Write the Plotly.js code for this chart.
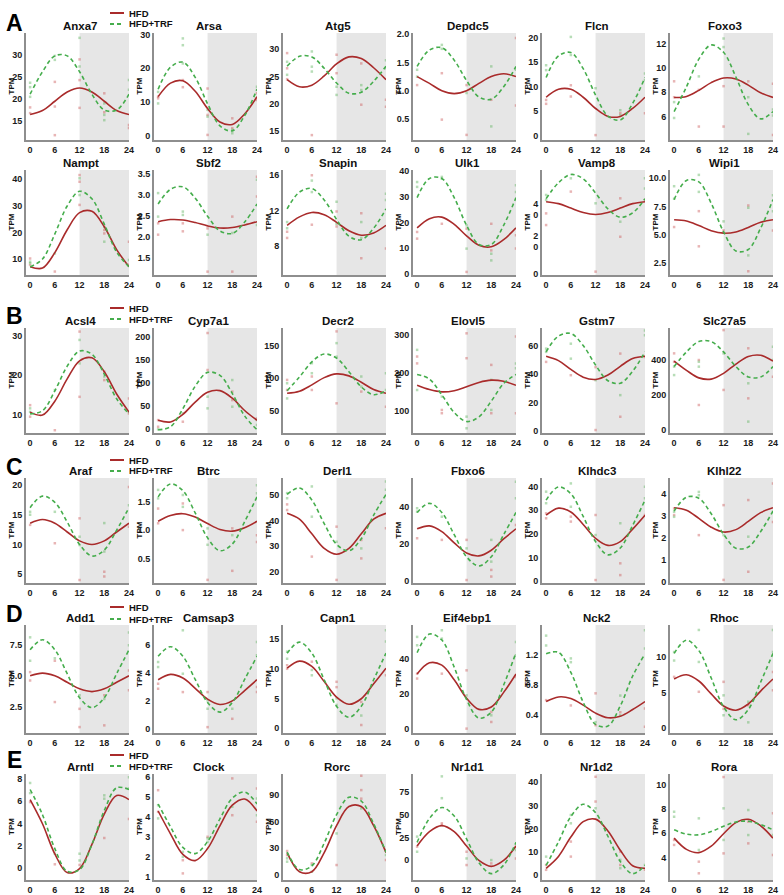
<!DOCTYPE html>
<html><head><meta charset="utf-8">
<script src="https://cdn.plot.ly/plotly-3.0.1.min.js"></script>
<style>html,body{margin:0;padding:0;background:#fff}#chart{width:784px;height:895px}</style>
</head><body><div id="chart"></div>
<script>
// Zeitgeber hours at which the fitted rhythms are sampled
const HOURS = [0, 3, 6, 9, 12, 15, 18, 21, 24];
// Zeitgeber hours of the individual samples
const SAMPLE_ZT = [0, 6, 12, 18, 24];
const XTICKS = [0, 6, 12, 18, 24];

// Fitted TPM curves (HFD vs HFD+TRF) and sample values per ZT, one set per gene
const anxa7Hfd = [16.5, 17.4, 19.5, 21.6, 22.5, 21.6, 19.5, 17.4, 16.5];
const anxa7Trf = [21.1, 26.2, 29.8, 29.8, 26.2, 21.1, 17.5, 17.5, 21.1];
const anxa7PtsHfd = [[18.1, 16.8], [23.9, 18.3, 11.8], [29, 24.3, 18], [21.3, 17], [14.1, 13.4]];
const anxa7PtsTrf = [[22.7, 23.7, 20.5], [29.8, 28.9], [33.9, 27.4], [16.4, 15.2, 19], [24.3, 22.1]];
const arsaHfd = [11.6, 15.6, 16.3, 13.2, 8.1, 4.1, 3.4, 6.5, 11.6];
const arsaTrf = [13.8, 20.3, 21.8, 17.3, 9.5, 3.0, 1.5, 6.0, 13.8];
const arsaPtsHfd = [[11.1, 11.6], [16.5, 14.4], [14, 6.2, 0.3], [2.3, 5.2], [12.6, 10.6]];
const arsaPtsTrf = [[13, 9.6], [28.8, 26.8, 21.4], [7.7, 5.7], [0.8, 1.8], [14.5, 13.6]];
const atg5Hfd = [24.4, 23.1, 23.4, 25.1, 27.3, 28.6, 28.3, 26.6, 24.4];
const atg5Trf = [26.9, 28.7, 28.6, 26.5, 23.8, 21.9, 22.1, 24.1, 26.9];
const atg5PtsHfd = [[29.3, 26.5, 24.5], [14.2], [29, 25.6], [27.4, 19.8], [19.4, 20.7]];
const atg5PtsTrf = [[27.7, 25.3], [29.6, 26.8, 25.9], [21.6, 23.1], [22.5, 23.4], [28, 26.5]];
const depdc5Hfd = [1.25, 1.13, 1.0, 0.95, 1.0, 1.13, 1.25, 1.3, 1.25];
const depdc5Trf = [1.43, 1.72, 1.76, 1.54, 1.18, 0.89, 0.85, 1.07, 1.43];
const depdc5PtsHfd = [[1.1], [1.31, 0.49], [1.1, 0.22], [0.84], [1.93, 0.74]];
const depdc5PtsTrf = [[1.37, 1.25], [1.81, 1.74], [0.96], [1.43, 0.37], [1.37]];
const flcnHfd = [7.85, 9.47, 9.47, 7.85, 5.55, 3.93, 3.93, 5.55, 7.85];
const flcnTrf = [11.9, 16.3, 17.0, 13.7, 8.3, 4.0, 3.2, 6.6, 11.9];
const flcnPtsHfd = [[7.3, 6.5], [10.3, 8], [0.1], [4.6], [4.6]];
const flcnPtsTrf = [[14.4, 13.4], [20.2, 16.5], [9.7], [4.2, 5.2], [12.7, 11.4]];
const foxo3Hfd = [7.58, 7.66, 8.16, 8.79, 9.17, 9.09, 8.59, 7.96, 7.58];
const foxo3Trf = [6.43, 8.45, 10.71, 11.87, 11.27, 9.25, 6.99, 5.83, 6.43];
const foxo3PtsHfd = [[8.9, 7.6], [5.2, 8.2], [5.2, 8.5], [8.9], [8.7, 4.5]];
const foxo3PtsTrf = [[5.9, 7.2], [9.3], [12.4, 11.7], [4.6, 7.6], [6.6, 6.1]];
const namptHfd = [7.1, 6.6, 12.4, 21.0, 27.4, 27.9, 22.1, 13.5, 7.1];
const namptTrf = [7.1, 10.0, 19.4, 29.9, 35.4, 32.6, 23.1, 12.6, 7.1];
const namptPtsHfd = [[10.2, 7.8], [5.3], [41.5, 39, 30.3], [20.9, 19.6], [16.5, 7.8]];
const namptPtsTrf = [[9, 8.4], [12.1], [40.3, 34], [22.1, 16.5], [9.6]];
const sbf2Hfd = [2.37, 2.42, 2.41, 2.35, 2.27, 2.22, 2.23, 2.29, 2.37];
const sbf2Trf = [2.79, 3.14, 3.20, 2.93, 2.50, 2.15, 2.09, 2.36, 2.79];
const sbf2PtsHfd = [[2.33, 2.06], [2.33, 2.14], [1.18, 2.21], [2.49, 1.18], [3.44, 2.97]];
const sbf2PtsTrf = [[3.05, 2.49], [2.61, 2.53], [2.06], [2.1], [3.37, 2.29]];
const snapinHfd = [10.33, 11.29, 11.79, 11.53, 10.67, 9.71, 9.21, 9.47, 10.33];
const snapinTrf = [12.2, 14.1, 14.5, 13.2, 11.0, 9.1, 8.7, 10.0, 12.2];
const snapinPtsHfd = [[8.9, 9.6], [16, 10.4], [11.9, 10.2], [6.6, 11.7], [7.7]];
const snapinPtsTrf = [[10.7, 10], [15.4, 14.1], [13, 10.5], [10.7, 8.9], [13.9, 13.2]];
const ulk1Hfd = [17.9, 21.5, 22.1, 19.3, 14.8, 11.1, 10.5, 13.3, 17.9];
const ulk1Trf = [29.7, 37.2, 37.2, 29.7, 18.9, 11.4, 11.4, 18.9, 29.7];
const ulk1PtsHfd = [[16.3, 13.7], [19.5], [0.7, 17.6], [9.1, 19.5], [9.8, 15]];
const ulk1PtsTrf = [[35.8, 33.9], [37.8, 37.1], [18.9, 9.8], [5.2, 7.8], [34.5, 31.9]];
const vamp8Hfd = [44.8, 43.6, 40.8, 38.0, 36.8, 38.0, 40.8, 43.6, 44.8];
const vamp8Trf = [46.7, 56.6, 61.8, 59.1, 50.2, 40.3, 35.1, 37.8, 46.7];
const vamp8PtsHfd = [[37.5, 30.2], [51.1], [1.1], [22.9, 46.9], [45.9]];
const vamp8PtsTrf = [[49, 45.9], [59.4], [43.8], [32.3], [59.4, 53.1]];
const wipi1Hfd = [6.34, 6.23, 5.83, 5.38, 5.16, 5.27, 5.67, 6.12, 6.34];
const wipi1Trf = [8.12, 9.81, 9.68, 7.80, 5.28, 3.59, 3.72, 5.6, 8.12];
const wipi1PtsHfd = [[5.7], [4.0, 7.1], [5.4], [7.6, 1.8], [5.4]];
const wipi1PtsTrf = [[9.3, 8.2], [10.3, 8.8], [6.2], [3.2, 7.4], [8.5, 7.1]];

const acsl4Hfd = [10.75, 10.0, 13.5, 19.1, 23.65, 24.4, 20.9, 15.3, 10.75];
const acsl4Trf = [10.3, 11.1, 16.1, 22.3, 26.1, 25.3, 20.3, 14.1, 10.3];
const acsl4PtsHfd = [[12.5, 9.6], [6.2], [31, 14.6], [20.9, 18.8], [14.2, 10.4]];
const acsl4PtsTrf = [[11.7, 10.8], [16.3], [28.9, 23], [19.7], [10.8]];
const cyp7a1Hfd = [17.8, 14.2, 30.8, 57.7, 79.2, 82.8, 66.3, 39.3, 17.8];
const cyp7a1Trf = [-2.8, 3.7, 43.2, 92.5, 122.8, 116.3, 76.8, 27.5, -2.8];
const cyp7a1PtsHfd = [[18.3, 3.7], [14.7], [209, 128], [80.6, 62], [22]];
const cyp7a1PtsTrf = [[-2], [33], [44, 69.6], [106, 47.6], [18.3, 7.3]];
const decr2Hfd = [77.0, 80.0, 89.8, 100.9, 106.6, 103.6, 93.8, 82.7, 77.0];
const decr2Trf = [80.9, 101.8, 125.1, 137.1, 130.9, 110.0, 86.7, 74.7, 80.9];
const decr2PtsHfd = [[97.4, 82], [102.6, 82], [171.8, 61.5], [79.5], [56.4]];
const decr2PtsTrf = [[92.3, 69], [123, 107.7], [153.8, 133], [102.6, 87.2], [107.7, 82]];
const elovl5Hfd = [167.5, 156.1, 150.1, 153.2, 163.5, 174.9, 180.9, 177.8, 167.5];
const elovl5Trf = [195.9, 183.6, 142.2, 95.9, 72.1, 84.4, 125.8, 172.1, 195.9];
const elovl5PtsHfd = [[225, 243], [94, 102.6], [304, 238.6], [221, 94], [295.6, 94]];
const elovl5PtsTrf = [[260.5, 155], [137.7], [85, 54.4], [102.6, 181.6], [225, 212]];
const gstm7Hfd = [52.7, 49.6, 43.4, 37.9, 36.3, 39.4, 45.6, 51.1, 52.7];
const gstm7Trf = [55.9, 67.0, 68.8, 60.3, 46.5, 35.4, 33.6, 42.1, 55.9];
const gstm7PtsHfd = [[48.7], [39.3], [0.5, 45], [54.6, 9.9], [52.2]];
const gstm7PtsTrf = [[58.1, 55.8], [61.6, 51], [35.8], [25.2], [71, 67.5]];
const slc27a5Hfd = [394, 341, 298, 291, 324, 377, 420, 427, 394];
const slc27a5Trf = [362.6, 446.4, 505.7, 505.7, 446.4, 362.6, 303.3, 303.3, 362.6];
const slc27a5PtsHfd = [[438, 390], [143, 400], [571, 229], [467, 181], [305]];
const slc27a5PtsTrf = [[314, 362], [362, 390], [438], [48, 267], [476, 400]];

const arafHfd = [13.58, 14.2, 13.58, 12.1, 10.6, 10.0, 10.6, 12.1, 13.58];
const arafTrf = [16.2, 18.15, 17.1, 13.8, 10.0, 8.05, 9.06, 12.4, 16.2];
const arafPtsHfd = [[13.3], [10.2], [14.4, 4], [5.4, 4.6], [19.7, 13]];
const arafPtsTrf = [[15.5, 15], [15.5], [11.3, 9.9], [13.6, 8.8], [16.6]];
const btrcHfd = [1.155, 1.258, 1.289, 1.229, 1.115, 1.012, 0.981, 1.041, 1.155];
const btrcTrf = [1.587, 1.815, 1.697, 1.303, 0.863, 0.635, 0.753, 1.147, 1.587];
const btrcPtsHfd = [[1.38, 1.12], [1.47, 1.0], [0.12], [0.28, 1.03], [0.91, 0.79]];
const btrcPtsTrf = [[1.71, 1.56], [1.62, 1.41], [1.03, 0.74], [0.91], [1.79, 1.65]];
const derl1Hfd = [42.8, 40.5, 34.8, 29.1, 26.8, 29.1, 34.8, 40.5, 42.8];
const derl1Trf = [50.2, 52.7, 48.0, 38.8, 30.7, 28.2, 32.9, 42.1, 50.2];
const derl1PtsHfd = [[46.3, 44.1], [25.9], [16.8, 37.6], [25.2, 32.4], [37]];
const derl1PtsTrf = [[50.7, 48.7], [53.3, 41.5], [31.7], [29.1], [55.2, 52]];
const fbxo6Hfd = [28.3, 29.9, 26.8, 20.7, 15.2, 13.6, 16.7, 22.8, 28.3];
const fbxo6Trf = [37.2, 42.15, 37.2, 25.15, 13.1, 8.15, 13.1, 25.15, 37.2];
const fbxo6PtsHfd = [[23.2], [22.3], [0.5, 22.3], [6, 2.4], [30.4]];
const fbxo6PtsTrf = [[37.6, 39.5], [34.9], [17.7], [22.3, 10.5], [53.9, 44.9]];
const klhdc3Hfd = [27.9, 30.9, 29.3, 24.0, 18.1, 15.1, 16.7, 22.0, 27.9];
const klhdc3Trf = [34.3, 39.9, 37.0, 27.4, 16.7, 11.1, 14.0, 23.6, 34.3];
const klhdc3PtsHfd = [[28.7, 26.6], [27.3, 25.2], [0.4, 28], [2.5, 7.5], [28]];
const klhdc3PtsTrf = [[37.9, 33], [41.4, 31.5], [19.5], [24.5], [40, 35.1]];
const klhl22Hfd = [3.35, 3.24, 2.87, 2.47, 2.25, 2.36, 2.73, 3.13, 3.35];
const klhl22Trf = [3.2, 3.83, 3.78, 3.08, 2.15, 1.52, 1.57, 2.27, 3.2];
const klhl22PtsHfd = [[3.32, 3.02], [2.11], [0.08, 3.47], [0.45, 3.7], [2.71, 4.45]];
const klhl22PtsTrf = [[2.94, 3.17], [4.07, 3.92], [2.11], [2.04], [3.17]];

const add1Hfd = [4.98, 5.2, 4.98, 4.45, 3.92, 3.7, 3.92, 4.45, 4.98];
const add1Trf = [7.09, 7.9, 7.09, 5.15, 3.2, 2.4, 3.2, 5.15, 7.09];
const add1PtsHfd = [[5.28, 4.6], [2.85, 6.2], [0.82, 2.3], [0.96, 3.4], [3.8, 5.4]];
const add1PtsTrf = [[8.1, 6.2], [6.4], [3.4], [3.1], [8.5, 7.45]];
const camsap3Hfd = [3.53, 3.91, 3.65, 2.91, 2.13, 1.75, 2.01, 2.75, 3.53];
const camsap3Trf = [5.21, 5.9, 5.21, 3.55, 1.89, 1.2, 1.89, 3.55, 5.21];
const camsap3PtsHfd = [[2.88, 3.24], [2.64], [0.12, 2.64], [0.72], [2.64, 3.0]];
const camsap3PtsTrf = [[4.44, 4.8], [7.08, 3.96], [2.04, 1.44], [1.44], [6.24, 5.28]];
const capn1Hfd = [10.1, 11.3, 10.4, 7.84, 5.21, 4.0, 4.94, 7.46, 10.1];
const capn1Trf = [12.64, 14.5, 12.64, 8.15, 3.66, 1.8, 3.66, 8.15, 12.64];
const capn1PtsHfd = [[10, 10.6], [11.2], [7.8, 6.9], [0.5, 4.4], [8.9]];
const capn1PtsTrf = [[12.9, 11.7], [9.8, 8.9], [5, 3.9], [2.1], [16.5, 14.6]];
const eif4ebp1Hfd = [31.2, 37.6, 36.25, 27.9, 17.4, 11.0, 12.35, 20.7, 31.2];
const eif4ebp1Trf = [43.4, 54.0, 50.6, 35.1, 16.6, 6.0, 9.4, 24.9, 43.4];
const eif4ebp1PtsHfd = [[28.6, 31.4], [31.4], [33.3, 0], [3.8, 9.5], [29.5]];
const eif4ebp1PtsTrf = [[52.4, 47.6], [56.2, 51.4], [19], [7.6], [49.5, 41.9]];
const nck2Hfd = [0.581, 0.642, 0.622, 0.534, 0.429, 0.368, 0.388, 0.476, 0.581];
const nck2Trf = [1.21, 1.23, 0.966, 0.573, 0.28, 0.259, 0.524, 0.917, 1.21];
const nck2PtsHfd = [[0.6], [0.53], [0.69, 0.27], [0.44], [0.49, 0.25]];
const nck2PtsTrf = [[1.45, 1.32], [1.15, 1.1], [0.31], [0.66, 0.4], [1.52, 1.28]];
const rhocHfd = [6.9, 7.49, 6.62, 4.8, 3.1, 2.51, 3.38, 5.2, 6.9];
const rhocTrf = [10.5, 12.35, 10.9, 7.04, 3.0, 1.16, 2.59, 6.46, 10.5];
const rhocPtsHfd = [[7.2], [5.1], [6.5, 2.7], [3.2], [5.3, 7.9]];
const rhocPtsTrf = [[10.7, 9.5], [13.8, 9.3], [4.6, 1.8], [3.7, 0.8], [13.8, 10.7]];

const arntlHfd = [6.12, 3.97, 1.28, -0.38, -0.02, 2.13, 4.83, 6.48, 6.12];
const arntlTrf = [7.02, 4.77, 1.75, -0.27, -0.12, 2.13, 5.15, 7.17, 7.02];
const arntlPtsHfd = [[5.9], [0.36], [0.3], [2.7], [4.4]];
const arntlPtsTrf = [[7.6, 6.7], [1.3], [1.3, 0.7], [6.5, 6.2], [8.1, 7.1]];
const clockHfd = [4.29, 3.15, 2.12, 1.81, 2.41, 3.55, 4.58, 4.89, 4.29];
const clockTrf = [4.64, 3.5, 2.47, 2.16, 2.76, 3.9, 4.93, 5.24, 4.64];
const clockPtsHfd = [[5.33, 4.25], [1.17, 1.83], [3.0], [5.92, 4.08], [3.75, 5.42]];
const clockPtsTrf = [[4.58, 3.92], [2.25, 2.0], [2.92, 2.75], [4.5], [4.92, 4.08]];
const rorcHfd = [24.7, 3.0, 3.0, 24.7, 55.3, 77.0, 77.0, 55.3, 24.7];
const rorcTrf = [25.25, 5.45, 9.7, 35.5, 67.75, 87.6, 83.3, 57.5, 25.25];
const rorcPtsHfd = [[21.9, 26.5], [12.5], [10.6], [112, 95.7, 86], [16.3]];
const rorcPtsTrf = [[14.4, 18.2], [3, 10.6], [46.5], [74.9], [27.6, 21.9]];
const nr1d1Hfd = [15.5, 31.4, 38, 31.4, 15.5, -0.4, -7, -0.4, 15.5];
const nr1d1Trf = [19.6, 45.9, 58.0, 48.6, 23.4, -2.9, -15.0, -5.6, 19.6];
const nr1d1PtsHfd = [[14.8], [40.6, 38.8], [-5.5, 9.2], [-3.7], [1.8, 14.8]];
const nr1d1PtsTrf = [[25.9, 9.2], [92.4, 68.3], [1.8], [0], [11.1]];
const nr1d2Hfd = [2.87, 8.0, 16.35, 23.0, 24.1, 19.0, 10.65, 3.97, 2.87];
const nr1d2Trf = [4.1, 14.3, 25.2, 30.5, 26.9, 16.7, 5.8, 0.55, 4.1];
const nr1d2PtsHfd = [[4.3, 2.2], [7.9, 14.4], [42.4, 31.7], [10.1, 4.3], [2.2]];
const nr1d2PtsTrf = [[7.9], [25.9, 22.3], [28.8], [2.9, 6.5], [4.3]];
const roraHfd = [5.6, 4.68, 4.41, 4.94, 5.96, 6.87, 7.14, 6.61, 5.6];
const roraTrf = [6.28, 5.93, 5.87, 6.14, 6.57, 6.92, 6.98, 6.71, 6.28];
const roraPtsHfd = [[5.45, 5.04], [3.67, 2.72], [10.6, 4.35], [6.95, 5.17], [7.63, 4.22]];
const roraPtsTrf = [[7.76, 7.35], [7.22, 4.63], [8.04, 5.45], [7.9, 5.85], [5.85]];

// Panel rows: [gene, HFD curve, TRF curve, HFD samples, TRF samples, y range, y tick values, y tick labels]
const rowA1 = [
  ['Anxa7', anxa7Hfd, anxa7Trf, anxa7PtsHfd, anxa7PtsTrf, [10.7, 35], [15, 20, 25, 30], ['15', '20', '25', '30']],
  ['Arsa', arsaHfd, arsaTrf, arsaPtsHfd, arsaPtsTrf, [-1.2, 30.4], [0, 10, 20, 30], ['0', '10', '20', '30']],
  ['Atg5', atg5Hfd, atg5Trf, atg5PtsHfd, atg5PtsTrf, [13.3, 33], [15, 20, 25, 30], ['15', '20', '25', '30']],
  ['Depdc5', depdc5Hfd, depdc5Trf, depdc5PtsHfd, depdc5PtsTrf, [0.13, 2.02], [0.5, 1, 1.5, 2], ['0.5', '1.0', '1.5', '2.0']],
  ['Flcn', flcnHfd, flcnTrf, flcnPtsHfd, flcnPtsTrf, [-0.9, 21], [0, 5, 10, 15, 20], ['0', '5', '10', '15', '20']],
  ['Foxo3', foxo3Hfd, foxo3Trf, foxo3PtsHfd, foxo3PtsTrf, [4.1, 12.85], [6, 8, 10, 12], ['6', '8', '10', '12']]
];
const rowA2 = [
  ['Nampt', namptHfd, namptTrf, namptPtsHfd, namptPtsTrf, [4, 43.4], [10, 20, 30, 40], ['10', '20', '30', '40']],
  ['Sbf2', sbf2Hfd, sbf2Trf, sbf2PtsHfd, sbf2PtsTrf, [1.1, 3.6], [1.5, 2, 2.5, 3, 3.5], ['1.5', '2.0', '2.5', '3.0', '3.5']],
  ['Snapin', snapinHfd, snapinTrf, snapinPtsHfd, snapinPtsTrf, [4.7, 16.6], [8, 12, 16], ['8', '12', '16']],
  ['Ulk1', ulk1Hfd, ulk1Trf, ulk1PtsHfd, ulk1PtsTrf, [-0.5, 40.5], [0, 10, 20, 30, 40], ['0', '10', '20', '30', '40']],
  ['Vamp8', vamp8Hfd, vamp8Trf, vamp8PtsHfd, vamp8PtsTrf, [-1, 64.6], [0, 20, 40], ['0', '2<br>0', '4<br>0']],
  ['Wipi1', wipi1Hfd, wipi1Trf, wipi1PtsHfd, wipi1PtsTrf, [1.47, 10.73], [2.5, 5, 7.5, 10], ['2.5', '5.0', '7.5', '10.0']]
];
const rowB = [
  ['Acsl4', acsl4Hfd, acsl4Trf, acsl4PtsHfd, acsl4PtsTrf, [5.5, 31.9], [10, 20, 30], ['10', '20', '30']],
  ['Cyp7a1', cyp7a1Hfd, cyp7a1Trf, cyp7a1PtsHfd, cyp7a1PtsTrf, [-10, 220], [0, 50, 100, 150, 200], ['0', '50', '100', '150', '200']],
  ['Decr2', decr2Hfd, decr2Trf, decr2PtsHfd, decr2PtsTrf, [16, 177], [50, 100, 150], ['50', '100', '150']],
  ['Elovl5', elovl5Hfd, elovl5Trf, elovl5PtsHfd, elovl5PtsTrf, [42, 318], [100, 200, 300], ['100', '200', '300']],
  ['Gstm7', gstm7Hfd, gstm7Trf, gstm7PtsHfd, gstm7PtsTrf, [-1.6, 72.7], [0, 20, 40, 60], ['0', '20', '40', '60']],
  ['Slc27a5', slc27a5Hfd, slc27a5Trf, slc27a5PtsHfd, slc27a5PtsTrf, [-17, 583], [0, 200, 400], ['0', '200', '400']]
];
const rowC = [
  ['Araf', arafHfd, arafTrf, arafPtsHfd, arafPtsTrf, [3.5, 21.2], [5, 10, 15, 20], ['5', '10', '15', '20']],
  ['Btrc', btrcHfd, btrcTrf, btrcPtsHfd, btrcPtsTrf, [0.065, 1.92], [0.5, 1, 1.5], ['0.5', '1.0', '1.5']],
  ['Derl1', derl1Hfd, derl1Trf, derl1PtsHfd, derl1PtsTrf, [15.6, 56.6], [20, 30, 40, 50], ['20', '30', '40', '50']],
  ['Fbxo6', fbxo6Hfd, fbxo6Trf, fbxo6PtsHfd, fbxo6PtsTrf, [-1.1, 55.9], [0, 20, 40], ['0', '20', '40']],
  ['Klhdc3', klhdc3Hfd, klhdc3Trf, klhdc3PtsHfd, klhdc3PtsTrf, [-0.85, 43.7], [0, 10, 20, 30, 40], ['0', '10', '20', '30', '40']],
  ['Klhl22', klhl22Hfd, klhl22Trf, klhl22PtsHfd, klhl22PtsTrf, [-0.06, 4.7], [0, 1, 2, 3, 4], ['0', '1', '2', '3', '4']]
];
const rowD = [
  ['Add1', add1Hfd, add1Trf, add1PtsHfd, add1PtsTrf, [0.34, 9.1], [2.5, 5, 7.5], ['2.5', '5.0', '7.5']],
  ['Camsap3', camsap3Hfd, camsap3Trf, camsap3PtsHfd, camsap3PtsTrf, [-0.3, 7.46], [0, 2, 4, 6], ['0', '2', '4', '6']],
  ['Capn1', capn1Hfd, capn1Trf, capn1PtsHfd, capn1PtsTrf, [-0.85, 17.4], [0, 5, 10, 15], ['0', '5', '10', '15']],
  ['Eif4ebp1', eif4ebp1Hfd, eif4ebp1Trf, eif4ebp1PtsHfd, eif4ebp1PtsTrf, [-2.5, 59.2], [0, 20, 40], ['0', '20', '40']],
  ['Nck2', nck2Hfd, nck2Trf, nck2PtsHfd, nck2PtsTrf, [0.167, 1.59], [0.4, 0.8, 1.2], ['0.4', '0.8', '1.2']],
  ['Rhoc', rhocHfd, rhocTrf, rhocPtsHfd, rhocPtsTrf, [-0.7, 14.5], [0, 5, 10], ['0', '5', '10']]
];
const rowE = [
  ['Arntl', arntlHfd, arntlTrf, arntlPtsHfd, arntlPtsTrf, [-1.04, 8.4], [0, 2, 4, 6, 8], ['0', '2', '4', '6', '8']],
  ['Clock', clockHfd, clockTrf, clockPtsHfd, clockPtsTrf, [0.84, 6.14], [1, 2, 3, 4, 5, 6], ['1', '2', '3', '4', '5', '6']],
  ['Rorc', rorcHfd, rorcTrf, rorcPtsHfd, rorcPtsTrf, [-6.4, 114], [0, 30, 60, 90], ['0', '30', '60', '90']],
  ['Nr1d1', nr1d1Hfd, nr1d1Trf, nr1d1PtsHfd, nr1d1PtsTrf, [-22, 95], [0, 25, 50, 75], ['0', '25', '50', '75']],
  ['Nr1d2', nr1d2Hfd, nr1d2Trf, nr1d2PtsHfd, nr1d2PtsTrf, [-2.2, 43.6], [0, 10, 20, 30, 40], ['0', '10', '20', '30', '40']],
  ['Rora', roraHfd, roraTrf, roraPtsHfd, roraPtsTrf, [2.17, 10.85], [4, 6, 8, 10], ['4', '6', '8', '10']]
];

// ---- page geometry (pixels) ----
const W = 784, H = 895;
const FONT = 'Liberation Sans, Arial, Helvetica, sans-serif';
const RED = '#a92b2b', GREEN = '#45ad4c', AXIS = '#8e8e8e', SHADE = '#e6e6e6';
const RED_PT = 'rgba(205,90,90,0.45)', GREEN_PT = 'rgba(95,180,95,0.45)';
const COL_LEFT = [26, 154, 283, 413, 542, 670];
const PLOT_W = 103;
const ROWS = [
  {panels: rowA1, top: 33, bottom: 140},
  {panels: rowA2, top: 170, bottom: 275},
  {panels: rowB, top: 328, bottom: 433},
  {panels: rowC, top: 478, bottom: 583},
  {panels: rowD, top: 625, bottom: 733},
  {panels: rowE, top: 774, bottom: 880}
];
// section letter and legend placement
const SECTIONS = [
  {letter: 'A', y: 23, legendY: [13, 24]},
  {letter: 'B', y: 316, legendY: [308, 319]},
  {letter: 'C', y: 467, legendY: [460, 471]},
  {letter: 'D', y: 614, legendY: [607, 619]},
  {letter: 'E', y: 760, legendY: [755, 766]}
];

const px = x => x / W;
const py = y => 1 - y / H;

function flattenSamples(groups) {
  const xs = [], ys = [];
  groups.forEach((vals, i) => vals.forEach(v => { xs.push(SAMPLE_ZT[i]); ys.push(v); }));
  return {xs, ys};
}

const traces = [];
const layout = {
  width: W, height: H,
  margin: {l: 0, r: 0, t: 0, b: 0},
  paper_bgcolor: '#fff', plot_bgcolor: 'rgba(0,0,0,0)',
  showlegend: false,
  font: {family: FONT, color: '#1b1b1b'},
  shapes: [], annotations: []
};

let k = 0;
ROWS.forEach(row => {
  row.panels.forEach((p, c) => {
    k += 1;
    const [gene, hfd, trf, ptsHfd, ptsTrf, yr, yt, ytt] = p;
    const xs = k === 1 ? '' : String(k);
    const left = COL_LEFT[c];
    layout['xaxis' + xs] = {
      domain: [px(left), px(left + PLOT_W)], anchor: 'y' + xs,
      range: [-1, 24], tickvals: XTICKS, ticktext: XTICKS.map(String),
      showline: true, linecolor: AXIS, linewidth: 2, ticks: '',
      showgrid: false, zeroline: false, fixedrange: true,
      tickfont: {family: FONT, size: 9, color: '#1b1b1b', weight: 'bold'}
    };
    layout['yaxis' + xs] = {
      domain: [py(row.bottom), py(row.top)], anchor: 'x' + xs,
      range: yr, tickvals: yt, ticktext: ytt,
      showline: true, linecolor: AXIS, linewidth: 2, ticks: '',
      showgrid: false, zeroline: false, fixedrange: true,
      tickfont: {family: FONT, size: 9, color: '#1b1b1b', weight: 'bold'}
    };
    // dark phase (ZT12-24)
    layout.shapes.push({
      type: 'rect', xref: 'x' + xs, yref: 'y' + xs + ' domain',
      x0: 12, x1: 24, y0: 0, y1: 1,
      fillcolor: SHADE, line: {width: 0}, layer: 'below'
    });
    // individual samples
    const sH = flattenSamples(ptsHfd), sT = flattenSamples(ptsTrf);
    traces.push({
      x: sH.xs, y: sH.ys, xaxis: 'x' + xs, yaxis: 'y' + xs, cliponaxis: true,
      type: 'scatter', mode: 'markers', name: 'HFD samples',
      marker: {symbol: 'square', size: 2.5, color: RED_PT}, hoverinfo: 'skip'
    });
    traces.push({
      x: sT.xs, y: sT.ys, xaxis: 'x' + xs, yaxis: 'y' + xs, cliponaxis: true,
      type: 'scatter', mode: 'markers', name: 'HFD+TRF samples',
      marker: {symbol: 'square', size: 2.5, color: GREEN_PT}, hoverinfo: 'skip'
    });
    // fitted rhythms
    traces.push({
      x: HOURS, y: hfd, xaxis: 'x' + xs, yaxis: 'y' + xs,
      type: 'scatter', mode: 'lines', name: 'HFD',
      line: {color: RED, width: 1.6, shape: 'spline', smoothing: 1},
      hoverinfo: 'skip'
    });
    traces.push({
      x: HOURS, y: trf, xaxis: 'x' + xs, yaxis: 'y' + xs,
      type: 'scatter', mode: 'lines', name: 'HFD+TRF',
      line: {color: GREEN, width: 1.6, dash: '4px,3px', shape: 'spline', smoothing: 1},
      hoverinfo: 'skip'
    });
    // gene title
    layout.annotations.push({
      xref: 'paper', yref: 'paper',
      x: px(left + PLOT_W / 2 + 3), y: py(row.top - 7),
      xanchor: 'center', yanchor: 'middle', showarrow: false,
      text: '<b>' + gene + '</b>', font: {family: FONT, size: 11.5, color: '#111'}
    });
    // y-axis label
    layout.annotations.push({
      xref: 'paper', yref: 'paper',
      x: px(left - 15), y: py((row.top + row.bottom) / 2),
      xanchor: 'center', yanchor: 'middle', showarrow: false, textangle: -90,
      text: '<b>TPM</b>', font: {family: FONT, size: 8, color: '#111'}
    });
  });
});

SECTIONS.forEach(s => {
  layout.annotations.push({
    xref: 'paper', yref: 'paper', x: px(14), y: py(s.y),
    xanchor: 'center', yanchor: 'middle', showarrow: false,
    text: '<b>' + s.letter + '</b>', font: {family: FONT, size: 23, color: '#000'}
  });
  const [y1, y2] = s.legendY;
  layout.shapes.push({type: 'line', xref: 'paper', yref: 'paper',
    x0: px(110), x1: px(124), y0: py(y1), y1: py(y1),
    line: {color: RED, width: 2}});
  layout.shapes.push({type: 'line', xref: 'paper', yref: 'paper',
    x0: px(110), x1: px(124), y0: py(y2), y1: py(y2),
    line: {color: GREEN, width: 2, dash: '4px,3px'}});
  layout.annotations.push({xref: 'paper', yref: 'paper', x: px(127), y: py(y1),
    xanchor: 'left', yanchor: 'middle', showarrow: false,
    text: '<b>HFD</b>', font: {family: FONT, size: 9.5, color: '#111'}});
  layout.annotations.push({xref: 'paper', yref: 'paper', x: px(127), y: py(y2),
    xanchor: 'left', yanchor: 'middle', showarrow: false,
    text: '<b>HFD+TRF</b>', font: {family: FONT, size: 9.5, color: '#111'}});
});

Plotly.newPlot('chart', traces, layout, {staticPlot: true, displayModeBar: false});
</script></body></html>
